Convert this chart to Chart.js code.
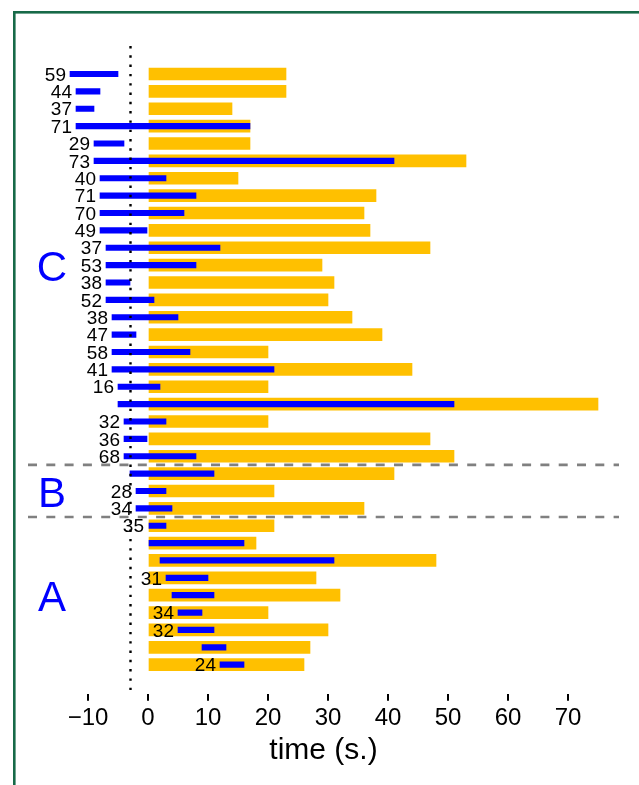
<!DOCTYPE html>
<html>
<head>
<meta charset="utf-8">
<script src="https://cdn.jsdelivr.net/npm/chart.js@4/dist/chart.umd.min.js"></script>
<style>
  html, body { margin: 0; padding: 0; background: #fff; overflow: hidden; }
  canvas { display: block; }
</style>
</head>
<body>
<canvas id="chart" width="639" height="785"></canvas>
<script>
// One row per trial, listed top to bottom
const countLabels = [59, 44, 37, 71, 29, 73, 40, 71, 70, 49, 37, 53, 38, 52, 38, 47, 58, 41, 16, null,
                     32, 36, 68, null, 28, 34, 35, null, null, 31, null, 34, 32, null, 24];
const blueStart   = [-13, -12, -12, -12, -9, -9, -8, -8, -8, -8, -7, -7, -7, -7, -6, -6, -6, -6, -5, -5,
                     -4, -4, -4, -3, -2, -2, 0, 0, 2, 3, 4, 5, 5, 9, 12];
const blueEnd     = [-5, -8, -9, 17, -4, 41, 3, 8, 6, 0, 12, 8, -3, 1, 5, -2, 7, 21, 2, 51,
                     3, 0, 8, 11, 3, 4, 3, 16, 31, 10, 11, 9, 11, 13, 16];
const yellowEnd   = [23, 23, 14, 17, 17, 53, 15, 38, 36, 37, 47, 29, 31, 30, 34, 39, 20, 44, 20, 75,
                     20, 47, 51, 41, 21, 36, 21, 18, 48, 28, 32, 20, 30, 27, 26];

// Groups: name with first and last row (1-based)
const groupNames = ['C', 'B', 'A'];
const groupFirst = [1, 24, 27];
const groupLast  = [23, 26, 35];

const xTicks = [-10, 0, 10, 20, 30, 40, 50, 60, 70];
const cutoffTime = -3;

const rowIndex = yellowEnd.map((_, i) => i + 1);
const FONT = '"Liberation Sans", Arial, sans-serif';

const overlay = {
  id: 'overlay',
  beforeDraw(chart) {
    const ctx = chart.ctx;
    ctx.save();
    ctx.fillStyle = '#ffffff';
    ctx.fillRect(0, 0, chart.width, chart.height);
    ctx.strokeStyle = '#176a48';
    ctx.lineWidth = 2.6;
    ctx.strokeRect(14.3, 12.3, 800, 900);
    ctx.restore();
  },
  afterDatasetsDraw(chart) {
    const { ctx, chartArea: a, scales: { x, y } } = chart;
    ctx.save();

    // vertical dotted cutoff line
    const cx = Math.round(x.getPixelForValue(cutoffTime)) + 0.5;
    ctx.strokeStyle = '#000';
    ctx.lineWidth = 2.4;
    ctx.setLineDash([2.4, 6.9]);
    ctx.beginPath();
    ctx.moveTo(cx, a.top + 1);
    ctx.lineTo(cx, a.bottom);
    ctx.stroke();

    // dashed separators between groups
    ctx.strokeStyle = '#808080';
    ctx.lineWidth = 2.6;
    ctx.setLineDash([9, 9.3]);
    for (let g = 1; g < groupFirst.length; g++) {
      const yy = y.getPixelForValue(groupFirst[g] - 0.5);
      ctx.beginPath();
      ctx.moveTo(a.left, yy);
      ctx.lineTo(a.right, yy);
      ctx.stroke();
    }
    ctx.setLineDash([]);

    // count labels to the left of each blue bar
    ctx.font = '19px ' + FONT;
    ctx.textAlign = 'right';
    ctx.textBaseline = 'middle';
    ctx.fillStyle = '#000';
    countLabels.forEach((n, i) => {
      if (n === null) return;
      ctx.fillText(String(n), x.getPixelForValue(blueStart[i]) - 4, y.getPixelForValue(rowIndex[i]) + 1.5);
    });

    // group letters
    ctx.font = '42px ' + FONT;
    ctx.textAlign = 'center';
    ctx.fillStyle = '#0000ff';
    groupNames.forEach((name, k) => {
      const mid = (groupFirst[k] + groupLast[k]) / 2;
      ctx.fillText(name, x.getPixelForValue(-16), y.getPixelForValue(mid) + 4);
    });

    ctx.restore();
  }
};

new Chart(document.getElementById('chart'), {
  type: 'bar',
  data: {
    datasets: [
      {
        label: 'interval',
        data: rowIndex.map((r, i) => ({ y: r, x: [blueStart[i], blueEnd[i]] })),
        backgroundColor: '#0000ff',
        borderWidth: 0,
        barThickness: 5.5,
        grouped: false,
        order: 0
      },
      {
        label: 'total',
        data: rowIndex.map((r, i) => ({ y: r, x: [0, yellowEnd[i]] })),
        backgroundColor: '#ffc000',
        borderWidth: 0,
        barThickness: 12,
        grouped: false,
        order: 1
      }
    ]
  },
  options: {
    indexAxis: 'y',
    responsive: false,
    animation: false,
    layout: { padding: { left: 28, right: 20, top: 45, bottom: 19.5 } },
    plugins: { legend: { display: false }, tooltip: { enabled: false } },
    scales: {
      y: {
        type: 'linear',
        display: false,
        reverse: true,
        offset: false,
        min: -0.67,
        max: 36.67
      },
      x: {
        type: 'linear',
        min: -20,
        max: 78.5,
        afterBuildTicks(scale) { scale.ticks = xTicks.map(v => ({ value: v })); },
        border: { display: false },
        grid: { drawOnChartArea: false, drawTicks: true, tickLength: 7, color: '#000', lineWidth: 2 },
        ticks: {
          color: '#000',
          padding: 3,
          font: { family: FONT, size: 24 },
          callback: v => String(v).replace('-', '\u2212')
        },
        title: {
          display: true,
          text: 'time (s.)',
          color: '#000',
          font: { family: FONT, size: 30, lineHeight: 1.0 },
          padding: { top: 0, bottom: 0 }
        }
      }
    }
  },
  plugins: [overlay]
});
</script>
</body>
</html>
